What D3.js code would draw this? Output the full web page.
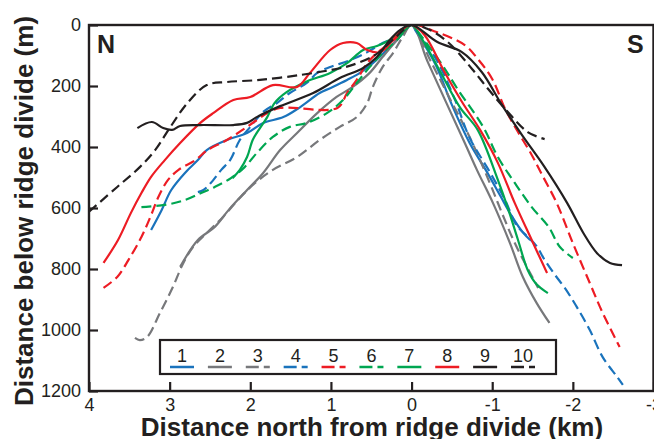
<!DOCTYPE html>
<html>
<head>
<meta charset="utf-8">
<script src="https://cdn.jsdelivr.net/npm/d3@7"></script>
<style>
  body { margin: 0; background: #fff; }
  text { font-family: "Liberation Sans", Arial, Helvetica, sans-serif; fill: #231f20; }
</style>
</head>
<body>
<svg id="chart" width="654" height="439"></svg>
<script>
// profiles: [distance north (km), distance below divide (m)], north end -> divide -> south end
var p1 = [[3.23,672],[3.10,607],[2.98,541],[2.81,485],[2.65,443],[2.54,410],[2.29,377],[2.04,354],[1.84,321],[1.59,302],[1.38,269],[1.14,223],[1.01,207],[0.80,180],[0.64,157],[0.48,125],[0.31,82],[0.18,49],[0,0],
          [-0.06,23],[-0.30,131],[-0.50,262],[-0.72,387],[-0.93,480],[-1.10,560],[-1.25,630],[-1.38,680],[-1.47,705]];
var p2 = [[2.87,793],[2.65,705],[2.44,662],[2.27,607],[2.04,541],[1.84,485],[1.63,410],[1.42,354],[1.17,289],[0.93,236],[0.73,203],[0.52,157],[0.36,105],[0.18,49],[0,0],
          [-0.20,121],[-0.66,387],[-0.81,475],[-1.01,584],[-1.22,715],[-1.38,826],[-1.55,911],[-1.71,977]];
var p3 = [[3.43,1026],[3.37,1033],[3.28,1023],[3.12,944],[2.96,859],[2.83,780],[2.71,728],[2.54,682],[2.34,630],[2.13,567],[1.94,518],[1.72,475],[1.42,433],[1.14,377],[0.89,334],[0.68,302],[0.55,256],[0.48,203],[0.36,138],[0.23,92],[0.11,39],[0,0],
          [-0.23,115],[-0.47,239],[-0.72,367],[-0.97,518],[-1.12,616],[-1.28,715],[-1.47,813],[-1.57,862]];
var p4 = [[2.65,548],[2.58,541],[2.49,518],[2.36,475],[2.25,443],[2.13,377],[2.00,334],[1.84,285],[1.67,256],[1.51,223],[1.30,190],[1.17,157],[1.01,138],[0.76,115],[0.55,89],[0.36,59],[0.18,39],[0,0],
          [-0.04,13],[-0.31,115],[-0.54,246],[-0.72,370],[-0.97,482],[-1.16,574],[-1.30,656],[-1.43,692],[-1.55,725],[-1.65,770],[-1.78,820],[-1.90,862],[-2.05,925],[-2.21,1000],[-2.37,1089],[-2.55,1154],[-2.62,1180]];
var p5 = [[3.82,862],[3.65,826],[3.51,770],[3.35,695],[3.24,630],[3.14,564],[3.02,508],[2.89,475],[2.68,443],[2.53,410],[2.29,377],[2.04,334],[1.79,289],[1.63,272],[0.92,272],[0.80,223],[0.68,180],[0.55,125],[0.43,92],[0.27,59],[0.14,33],[0,0],
          [-0.31,23],[-0.66,66],[-0.82,111],[-1.00,177],[-1.16,275],[-1.32,351],[-1.49,426],[-1.62,492],[-1.80,584],[-2.00,715],[-2.21,846],[-2.37,944],[-2.58,1056]];
var p6 = [[3.35,597],[3.06,590],[2.81,574],[2.61,551],[2.44,531],[2.24,502],[2.07,466],[1.92,420],[1.72,367],[1.51,334],[1.30,321],[1.05,289],[0.85,246],[0.68,190],[0.52,138],[0.36,92],[0.18,49],[0,0],
          [-0.08,23],[-0.38,131],[-0.57,210],[-0.89,335],[-1.07,433],[-1.28,518],[-1.49,597],[-1.70,662],[-1.84,728],[-2.00,764]];
var p7 = [[2.22,502],[2.13,475],[2.04,433],[1.97,377],[1.88,338],[1.79,302],[1.70,256],[1.55,220],[1.30,185],[1.01,157],[0.80,125],[0.60,82],[0.43,69],[0.27,49],[0.11,23],[0,0],
          [-0.13,46],[-0.35,150],[-0.60,270],[-0.82,344],[-1.07,508],[-1.19,597],[-1.32,705],[-1.44,803],[-1.55,850],[-1.69,879]];
var p8 = [[3.82,780],[3.64,705],[3.48,616],[3.35,551],[3.23,498],[3.06,443],[2.87,387],[2.62,321],[2.46,289],[2.21,246],[2.00,236],[1.72,197],[1.42,203],[1.26,157],[1.01,82],[0.85,59],[0.68,59],[0.55,82],[0.39,89],[0.23,49],[0.12,16],[0,0],
          [-0.16,33],[-0.40,150],[-0.62,250],[-0.85,344],[-1.07,452],[-1.28,584],[-1.49,705],[-1.68,813]];
var p9 = [[3.40,338],[3.22,318],[3.08,338],[2.97,344],[2.87,331],[2.62,328],[2.21,328],[2.04,321],[1.92,302],[1.63,266],[1.22,223],[0.89,174],[0.60,141],[0.43,105],[0.27,49],[0.14,16],[0,0],
          [-0.32,56],[-0.62,88],[-0.87,154],[-1.12,262],[-1.37,361],[-1.64,462],[-1.93,584],[-2.13,682],[-2.30,748],[-2.46,780],[-2.61,787]];
var p10 = [[4.00,612],[3.65,531],[3.37,466],[3.18,410],[2.99,334],[2.78,256],[2.54,197],[2.29,187],[1.88,180],[1.38,164],[1.01,148],[0.77,134],[0.45,98],[0.21,43],[0,0],
           [-0.20,13],[-0.45,56],[-0.75,144],[-0.95,210],[-1.16,275],[-1.44,351],[-1.65,374]];

var profileNames = ["1","2","3","4","5","6","7","8","9","10"];
var profileData = [p1,p2,p3,p4,p5,p6,p7,p8,p9,p10];
var profileColors = ["#1a73bc","#77787b","#77787b","#1a73bc","#ed1c24","#00a651","#00a651","#ed1c24","#231f20","#231f20"];
var profileDashed = [false,false,true,true,true,true,false,false,false,true];

var xTicks = [4,3,2,1,0,-1,-2,-3];
var yTicks = [0,200,400,600,800,1000,1200];

var svg = d3.select("#chart");
var plotLeft = 89, plotRight = 653.5, plotTop = 25, plotBottom = 391;

var x = d3.scaleLinear().domain([4,-3]).range([plotLeft,plotRight]);
var y = d3.scaleLinear().domain([0,1200]).range([plotTop,plotBottom]);

svg.append("clipPath").attr("id","plotclip")
    .append("rect").attr("x",plotLeft).attr("y",plotTop).attr("width",plotRight-plotLeft).attr("height",plotBottom-plotTop);

var line = d3.line()
    .x(function(d){ return x(d[0]); })
    .y(function(d){ return y(d[1]); })
    .curve(d3.curveCatmullRom.alpha(0.5));

var lines = svg.append("g").attr("clip-path","url(#plotclip)");
profileData.forEach(function(pts,i){
    lines.append("path")
        .attr("d", line(pts))
        .attr("fill","none")
        .attr("stroke", profileColors[i])
        .attr("stroke-width", 2.2)
        .attr("stroke-linejoin","round")
        .attr("stroke-dasharray", profileDashed[i] ? "10,5" : null);
});

// axes, ticks pointing inwards; plain hyphen for negatives like the original
var plainFmt = function(d){ return String(d); };
var yAxis = svg.append("g").attr("transform","translate(" + plotLeft + ",0)")
    .call(d3.axisLeft(y).tickValues(yTicks).tickSize(-9).tickPadding(8).tickFormat(plainFmt));
var xAxis = svg.append("g").attr("transform","translate(0," + plotBottom + ")")
    .call(d3.axisBottom(x).tickValues(xTicks).tickSize(-9).tickPadding(7).tickFormat(plainFmt));
[yAxis, xAxis].forEach(function(a){
    a.select(".domain").remove();
    a.selectAll(".tick line").attr("stroke","#231f20").attr("stroke-width",2.2);
    a.selectAll(".tick text").style("font-size","18px").style("font-family","Liberation Sans, Arial, sans-serif").attr("fill","#231f20");
});

svg.append("rect")
    .attr("x",plotLeft).attr("y",plotTop).attr("width",plotRight-plotLeft).attr("height",plotBottom-plotTop)
    .attr("fill","none").attr("stroke","#231f20").attr("stroke-width",2.4);

svg.append("text").attr("x",97).attr("y",53).style("font-size","25px").style("font-weight","bold").text("N");
svg.append("text").attr("x",627).attr("y",53).style("font-size","25px").style("font-weight","bold").text("S");

svg.append("text")
    .attr("transform","translate(33,211) rotate(-90)")
    .attr("text-anchor","middle")
    .style("font-size","26px").style("font-weight","bold")
    .text("Distance below ridge divide (m)");
svg.append("text")
    .attr("x",372).attr("y",436)
    .attr("text-anchor","middle")
    .style("font-size","26px").style("font-weight","bold")
    .text("Distance north from ridge divide (km)");

// legend
var legend = svg.append("g");
legend.append("rect").attr("x",160).attr("y",340).attr("width",396).attr("height",34)
    .attr("fill","#fff").attr("stroke","#231f20").attr("stroke-width",2.2);
var legendX = d3.scalePoint().domain(profileNames).range([182,523]);
profileNames.forEach(function(n,i){
    var cx = legendX(n);
    legend.append("text").attr("x",cx).attr("y",362).attr("text-anchor","middle")
        .style("font-size","18px").text(n);
    legend.append("line").attr("x1",cx-12).attr("x2",cx+12).attr("y1",367).attr("y2",367)
        .attr("stroke",profileColors[i]).attr("stroke-width",2.5)
        .attr("stroke-dasharray", profileDashed[i] ? "13,5" : null);
});
</script>
</body>
</html>
